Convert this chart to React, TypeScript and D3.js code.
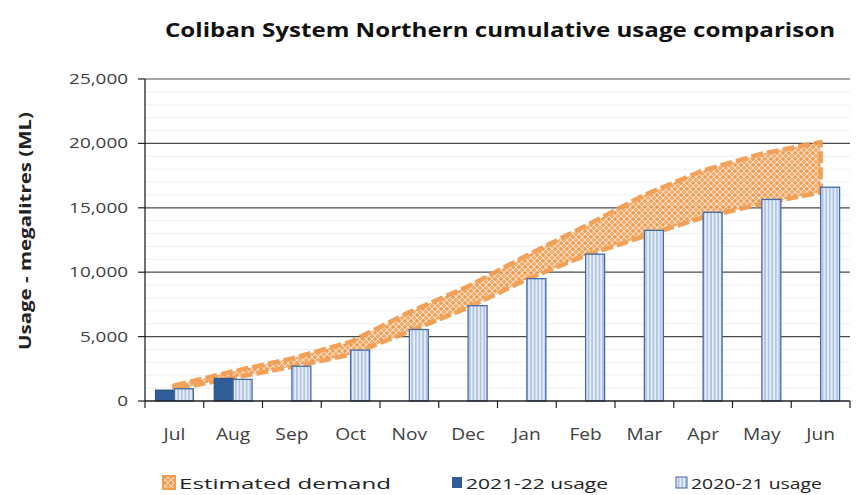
import React from "react";
import * as d3 from "d3";

const months = ["Jul", "Aug", "Sep", "Oct", "Nov", "Dec", "Jan", "Feb", "Mar", "Apr", "May", "Jun"];
const seriesNames = ["2021-22 usage", "2020-21 usage"];
const usage2021_22 = [850, 1760];
const usage2020_21 = [950, 1680, 2700, 3950, 5550, 7400, 9500, 11400, 13250, 14650, 15650, 16600];
const demandLow = [900, 1800, 2650, 3600, 5400, 7250, 9450, 11300, 12800, 14250, 15300, 16200];
const demandHigh = [1200, 2300, 3300, 4600, 6900, 8900, 11300, 13600, 16000, 17900, 19200, 20100];
const yTicks = [0, 5000, 10000, 15000, 20000, 25000];
const title = "Coliban System Northern cumulative usage comparison";
const yTitle = "Usage - megalitres (ML)";
const demandLabel = "Estimated demand";

const FONT = "'Open Sans', 'DejaVu Sans', sans-serif";

export default function App() {
  const W = 856, H = 495;
  const left = 145, right = 850, top = 79, bottom = 401;

  const x0 = d3.scaleBand<string>().domain(months).range([left, right]).paddingInner(0).paddingOuter(0);
  const x1 = d3.scaleBand<string>().domain(seriesNames).range([0, x0.bandwidth()]).paddingInner(0).paddingOuter(0.55);
  const y = d3.scaleLinear().domain([0, 25000]).range([bottom, top]);
  const minorTicks = d3.range(0, 25001, 1000).filter((v) => v % 5000 !== 0);
  const fmt = d3.format(",");

  const cx = (m: string) => (x0(m) as number) + x0.bandwidth() / 2;
  const bandData = months.map((m, i) => ({ m, lo: demandLow[i], hi: demandHigh[i] }));
  const area = d3
    .area<{ m: string; lo: number; hi: number }>()
    .x((d) => cx(d.m))
    .y0((d) => y(d.lo))
    .y1((d) => y(d.hi));
  const areaPath = area(bandData) as string;

  const boundaries = d3.range(0, months.length + 1).map((i) => left + i * x0.bandwidth());

  return (
    <div style={{ position: "absolute", left: 0, top: 0 }}>
      <svg width={W} height={H} style={{ display: "block", background: "#fff" }} fontFamily={FONT}>
        <defs>
          <pattern id="demandPat" width="6" height="6" patternUnits="userSpaceOnUse">
            <rect width="6" height="6" fill="#f5aa68" />
            <path d="M0 3 L3 0 L6 3 L3 6 Z" fill="none" stroke="#fde9d6" strokeWidth="0.8" />
            <circle cx="3" cy="3" r="1" fill="#ec8f3c" />
          </pattern>
          <pattern id="stripePat" width="3.6" height="6" patternUnits="userSpaceOnUse">
            <rect width="3.6" height="6" fill="#e6effb" />
            <line x1="1.8" y1="0" x2="1.8" y2="6" stroke="#8ea9d8" strokeWidth="1.1" />
          </pattern>
        </defs>

        <text x={500} y={37} textAnchor="middle" fontSize={19} fontWeight="bold" fill="#111" textLength={670} lengthAdjust="spacingAndGlyphs">
          {title}
        </text>

        {minorTicks.map((v) => (
          <line key={"mn" + v} x1={left} x2={right} y1={y(v)} y2={y(v)} stroke="#eceff4" strokeWidth={1} />
        ))}
        {yTicks.filter((v) => v > 0).map((v) => (
          <line key={"mj" + v} x1={left} x2={right} y1={y(v)} y2={y(v)} stroke="#4a4a4a" strokeWidth={1.2} />
        ))}

        <path d={areaPath} fill="url(#demandPat)" stroke="#f29c50" strokeWidth={4.5} strokeDasharray="12 4" strokeLinejoin="round" opacity={0.95} />

        {usage2021_22.map((v, i) => (
          <rect
            key={"a" + i}
            x={(x0(months[i]) as number) + (x1(seriesNames[0]) as number)}
            y={y(v)}
            width={x1.bandwidth()}
            height={y(0) - y(v)}
            fill="#2f5d98"
            stroke="#284f82"
            strokeWidth={1}
          />
        ))}
        {usage2020_21.map((v, i) => (
          <rect
            key={"b" + i}
            x={(x0(months[i]) as number) + (x1(seriesNames[1]) as number)}
            y={y(v)}
            width={x1.bandwidth()}
            height={y(0) - y(v)}
            fill="url(#stripePat)"
            stroke="#4469a8"
            strokeWidth={1.3}
          />
        ))}

        <line x1={left} x2={left} y1={top} y2={bottom} stroke="#222" strokeWidth={1.3} />
        <line x1={left} x2={right} y1={bottom} y2={bottom} stroke="#222" strokeWidth={1.3} />
        {yTicks.map((v) => (
          <g key={"yt" + v}>
            <line x1={left - 7} x2={left} y1={y(v)} y2={y(v)} stroke="#222" strokeWidth={1.2} />
            <g transform={`translate(128,${y(v) + 5})`}>
              <text textAnchor="end" fontSize={14} fill="#404040" transform="scale(1.35,1)">
                {fmt(v)}
              </text>
            </g>
          </g>
        ))}
        {boundaries.map((bx, i) => (
          <line key={"xt" + i} x1={bx} x2={bx} y1={bottom} y2={bottom + 7} stroke="#222" strokeWidth={1.2} />
        ))}
        {months.map((m) => (
          <g key={"xl" + m} transform={`translate(${cx(m)},440)`}>
            <text textAnchor="middle" fontSize={16} fill="#404040" transform="scale(1.2,1)">
              {m}
            </text>
          </g>
        ))}

        <text
          transform={`translate(31,231) rotate(-90)`}
          textAnchor="middle"
          fontSize={16}
          fontWeight="bold"
          fill="#222"
          textLength={238}
          lengthAdjust="spacingAndGlyphs"
        >
          {yTitle}
        </text>

        <rect x={163} y={476} width={12} height={13} fill="url(#demandPat)" stroke="#f29c50" strokeWidth={2} />
        <text x={179} y={489} fontSize={15} fill="#222" textLength={212} lengthAdjust="spacingAndGlyphs">
          {demandLabel}
        </text>
        <rect x={452} y={477} width={10} height={11} fill="#2f5d98" />
        <text x={466} y={489} fontSize={15} fill="#222" textLength={142} lengthAdjust="spacingAndGlyphs">
          {seriesNames[0]}
        </text>
        <rect x={676} y={477} width={11} height={11} fill="url(#stripePat)" stroke="#4469a8" strokeWidth={1} />
        <text x={691} y={489} fontSize={15} fill="#222" textLength={131} lengthAdjust="spacingAndGlyphs">
          {seriesNames[1]}
        </text>
      </svg>
    </div>
  );
}
